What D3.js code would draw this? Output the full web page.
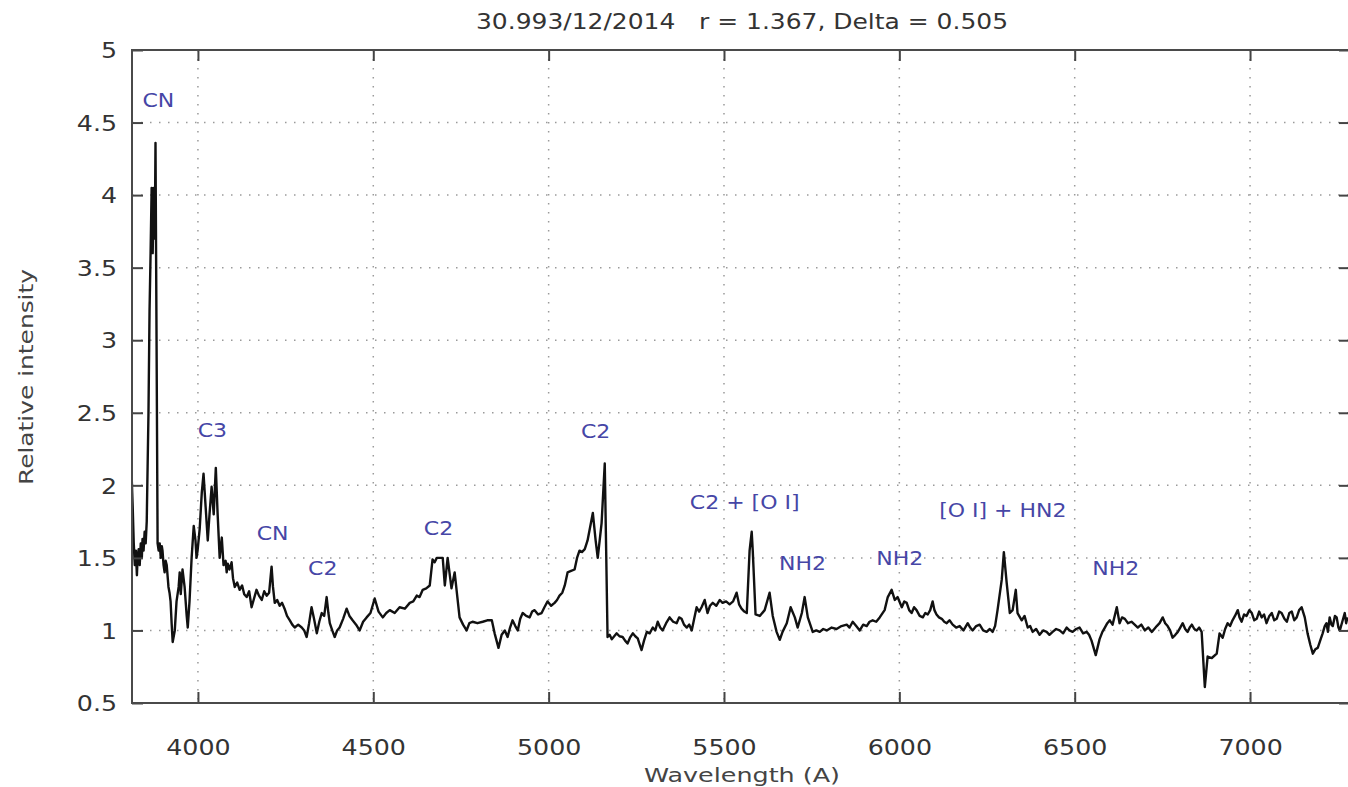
<!DOCTYPE html>
<html>
<head>
<meta charset="utf-8">
<script src="https://cdn.jsdelivr.net/npm/d3@7"></script>
<style>
  html, body { margin: 0; padding: 0; background: #fff; }
  svg { display: block; }
  text { font-family: "DejaVu Sans", Verdana, sans-serif; }
</style>
</head>
<body>
<svg id="chart" width="1348" height="787"></svg>
<script>
// ---------- data ----------
const titleText = "30.993/12/2014   r = 1.367, Delta = 0.505";
const xLabel = "Wavelength (A)";
const yLabel = "Relative intensity";
const xTicks = [4000, 4500, 5000, 5500, 6000, 6500, 7000];
const yTicks = [0.5, 1, 1.5, 2, 2.5, 3, 3.5, 4, 4.5, 5];

const wavelength = [
  // 3811 - 3880 : CN band
  3811,3814,3817,3820,3823,3826,3828,3831,3834,3837,3840,3842,3845,3848,3851,3854,
  3859,3862,3865,3868,3871,3874,3877,3879,3882,
  // 3885 - 4079 : C3
  3885,3888,3891,3894,3897,3899,3902,3905,3908,3911,3914,3916,3919,3922,3925,3928,
  3934,3939,3945,3948,3951,3956,3962,3968,3971,3976,3982,3988,3993,3996,3999,4005,
  4011,4016,4022,4028,4033,4039,4045,4051,4056,4062,4068,4073,
  // 4079 - 4681
  4079,4082,4085,4090,4096,4100,4105,4112,4119,4126,4132,4139,4146,4153,4160,4167,
  4174,4182,4189,4196,4203,4210,4214,4219,4226,4233,4240,4247,4254,4262,4269,4276,
  4286,4296,4303,4310,4317,4324,4331,4339,4346,4353,4360,4367,4372,4376,4383,4390,
  4397,4404,4414,4424,4432,4441,4451,4461,4471,4481,4492,4504,4515,4527,4537,4547,
  4561,4575,4590,4604,4614,4624,4632,4641,4651,4661,4669,4675,4681,
  // 4689 - 4746
  4689,4698,4704,4712,4723,4732,
  // 4746 - 5160
  4746,4756,4766,4774,4783,4797,4812,4825,4838,4846,4857,4866,4875,4883,4890,4897,
  4905,4912,4919,4926,4936,4946,4953,4960,4970,4980,4988,4997,5007,5017,5024,5031,
  5039,5046,5054,5064,5074,5081,5088,5095,5103,5111,5126,5134,5140,5151,5160,
  // 5168 - 5565
  5168,5174,5180,5187,5194,5202,5211,5218,5225,5232,5240,5247,5254,5260,5265,5272,
  5280,5288,5297,5304,5311,5318,5325,5335,5345,5355,5365,5372,5379,5386,5394,5401,
  5408,5415,5422,5429,5436,5445,5453,5460,5468,5478,5488,5496,5506,5516,5526,5536,
  5543,5550,5558,5565,
  // 5573 - 5739 : [O I] and NH2
  5573,5579,5582,5590,5602,5616,5630,5639,5650,5659,5667,5679,5690,5702,5710,5722,
  5730,5739,
  // 5753 - 6280
  5753,5763,5773,5783,5793,5807,5821,5835,5850,5858,5867,5877,5887,5897,5907,5915,
  5924,5934,5944,5958,5967,5978,5987,5995,6007,6014,6021,6028,6035,6042,6049,6058,
  6067,6074,6081,6088,6095,6100,6106,6113,6121,6128,6135,6143,6152,6162,6172,6183,
  6195,6202,6209,6219,6229,6239,6249,6258,6266,6273,6280,
  // 6292 - 6349 : [O I] 6300
  6292,6298,6306,6315,6323,6332,6337,
  // 6349 - 6871
  6349,6357,6366,6373,6380,6390,6400,6410,6420,6428,6437,6447,6457,6467,6477,6485,
  6494,6504,6514,6524,6534,6541,6548,6560,6571,6579,6586,6593,6600,6608,6614,6620,
  6628,6635,6643,6652,6662,6671,6680,6690,6700,6710,6720,6727,6734,6742,6751,6758,
  6765,6772,6779,6787,6794,6801,6808,6815,6822,6828,6834,6841,6848,6855,6862,
  // 6871 - 7278
  6871,6879,6891,6905,6913,6922,6929,6936,6943,6950,6957,6965,6970,6976,6983,6990,
  6998,7005,7012,7019,7026,7033,7040,7047,7055,7062,7069,7076,7083,7090,7098,7105,
  7112,7119,7126,7133,7140,7147,7156,7164,7172,7179,7186,7193,7200,7207,7213,7218,
  7222,7227,7232,7236,7242,7247,7252,7256,7263,7270,7274,7278
];
const intensity = [
  // 3811 - 3880
  2.06,1.85,1.60,1.45,1.55,1.38,1.50,1.56,1.45,1.60,1.50,1.63,1.55,1.68,1.60,1.75,
  2.50,3.20,3.60,4.05,3.60,4.05,3.70,4.36,3.00,
  // 3885 - 4079
  1.60,1.55,1.60,1.50,1.58,1.55,1.45,1.40,1.48,1.45,1.36,1.30,1.26,1.20,1.05,0.92,
  1.00,1.20,1.30,1.40,1.25,1.42,1.30,1.10,1.02,1.20,1.50,1.72,1.62,1.50,1.55,1.70,
  1.95,2.08,1.85,1.62,1.80,1.99,1.80,2.12,1.81,1.50,1.64,1.45,
  // 4079 - 4681
  1.48,1.40,1.46,1.42,1.47,1.36,1.30,1.33,1.28,1.31,1.25,1.23,1.27,1.16,1.22,1.28,
  1.24,1.21,1.27,1.24,1.26,1.44,1.30,1.19,1.21,1.17,1.19,1.15,1.10,1.07,1.04,1.02,
  1.04,1.02,1.00,0.955,1.05,1.16,1.08,0.98,1.06,1.12,1.10,1.23,1.12,1.05,1.00,0.955,
  1.00,1.02,1.08,1.15,1.10,1.07,1.04,1.00,1.06,1.09,1.12,1.22,1.13,1.09,1.12,1.14,
  1.12,1.16,1.15,1.19,1.20,1.24,1.23,1.28,1.29,1.31,1.49,1.47,1.50,
  // 4689 - 4746
  1.50,1.50,1.31,1.50,1.29,1.40,
  // 4746 - 5160
  1.09,1.04,1.00,1.05,1.06,1.05,1.06,1.07,1.07,0.98,0.88,0.97,1.00,0.955,1.02,1.07,
  1.03,1.00,1.08,1.12,1.10,1.09,1.13,1.14,1.11,1.12,1.16,1.20,1.17,1.19,1.21,1.24,
  1.26,1.31,1.40,1.41,1.42,1.50,1.55,1.54,1.56,1.62,1.81,1.62,1.50,1.74,2.15,
  // 5168 - 5565
  0.955,0.97,0.94,0.96,0.98,0.96,0.955,0.93,0.91,0.95,0.98,0.96,0.945,0.90,0.865,0.93,
  0.99,0.98,1.02,1.00,1.06,1.02,1.00,1.05,1.09,1.06,1.05,1.09,1.08,1.04,1.02,1.04,
  1.00,1.08,1.16,1.13,1.16,1.21,1.12,1.17,1.19,1.17,1.21,1.19,1.20,1.18,1.20,1.26,
  1.18,1.15,1.13,1.12,
  // 5573 - 5739
  1.55,1.68,1.55,1.11,1.10,1.14,1.26,1.10,0.99,0.935,0.99,1.05,1.16,1.09,1.02,1.12,
  1.23,1.09,
  // 5753 - 6280
  0.99,1.00,0.99,1.01,1.00,1.02,1.01,1.03,1.04,1.02,1.06,1.03,1.00,1.04,1.03,1.06,
  1.07,1.06,1.09,1.14,1.23,1.28,1.21,1.23,1.16,1.20,1.19,1.14,1.12,1.16,1.14,1.10,
  1.09,1.12,1.11,1.14,1.20,1.14,1.11,1.09,1.08,1.06,1.05,1.07,1.04,1.02,1.03,1.00,
  1.05,1.02,1.00,1.03,1.04,1.00,0.99,1.01,0.99,1.03,1.14,
  // 6292 - 6349
  1.35,1.54,1.33,1.12,1.14,1.28,1.12,
  // 6349 - 6871
  1.07,1.10,1.02,1.03,0.99,1.01,0.97,1.00,0.99,0.97,0.99,1.01,1.00,0.98,1.02,1.00,
  0.99,1.01,1.02,0.98,0.99,0.97,0.93,0.83,0.94,0.99,1.02,1.05,1.07,1.04,1.10,1.16,
  1.05,1.09,1.08,1.05,1.06,1.04,1.02,1.04,1.00,1.02,0.99,1.01,1.03,1.05,1.09,1.05,
  1.03,1.00,0.95,0.97,0.99,1.02,1.05,1.01,0.99,1.02,1.04,1.01,1.00,1.02,0.99,
  // 6871 - 7278
  0.61,0.82,0.81,0.84,0.98,0.95,1.01,1.05,1.03,1.07,1.10,1.14,1.09,1.06,1.11,1.10,
  1.14,1.12,1.07,1.08,1.13,1.09,1.11,1.05,1.10,1.12,1.07,1.08,1.13,1.12,1.08,1.06,
  1.12,1.13,1.07,1.09,1.14,1.16,1.09,0.98,0.90,0.84,0.87,0.88,0.93,0.98,1.03,1.05,
  0.99,1.09,1.04,1.03,1.10,1.09,1.02,1.00,1.06,1.12,1.05,1.09
];

const labelTexts = ["CN", "C3", "CN", "C2", "C2", "C2", "C2 + [O I]", "NH2", "NH2", "[O I] + HN2", "NH2"];
const labelWavelengths = [3887, 4041, 4213, 4356, 4686, 5134, 5559, 5724, 6001, 6295, 6617];
const labelIntensities = [4.66, 2.38, 1.67, 1.43, 1.706, 2.375, 1.885, 1.465, 1.50, 1.83, 1.43];

// ---------- layout ----------
const plot = { left: 132, right: 1350, top: 50, bottom: 703 };
const svg = d3.select("#chart");

const x = d3.scaleLinear()
  .domain([3812, 7285])
  .range([plot.left, plot.right]);
const y = d3.scaleLinear()
  .domain([0.5, 5])
  .range([plot.bottom, plot.top]);

const clipId = "plotclip";
svg.append("defs").append("clipPath").attr("id", clipId)
  .append("rect")
  .attr("x", plot.left).attr("y", plot.top)
  .attr("width", plot.right - plot.left).attr("height", plot.bottom - plot.top);

// grid
const grid = svg.append("g").attr("class", "grid");
grid.selectAll("line.vx")
  .data(xTicks).join("line")
  .attr("x1", d => x(d)).attr("x2", d => x(d))
  .attr("y1", plot.top).attr("y2", plot.bottom)
  .attr("stroke", "#9a9a9a").attr("stroke-width", 1.5)
  .attr("stroke-dasharray", "1.5,7.5");
grid.selectAll("line.hy")
  .data(yTicks.filter(d => d > 0.5 && d < 5)).join("line")
  .attr("x1", plot.left).attr("x2", plot.right)
  .attr("y1", d => y(d)).attr("y2", d => y(d))
  .attr("stroke", "#9a9a9a").attr("stroke-width", 1.5)
  .attr("stroke-dasharray", "1.5,7.5");

// spectrum
const pts = wavelength.map((w, i) => [w, intensity[i]]);
const line = d3.line().x(d => x(d[0])).y(d => y(d[1]));
svg.append("path")
  .datum(pts)
  .attr("clip-path", `url(#${clipId})`)
  .attr("d", line)
  .attr("fill", "none")
  .attr("stroke", "#111")
  .attr("stroke-width", 2.4)
  .attr("stroke-linejoin", "round");

// axes with inward ticks
const tickCol = "#444";
const tickLen = 11;
const xAxisB = svg.append("g")
  .attr("transform", `translate(0,${plot.bottom})`)
  .call(d3.axisBottom(x).tickValues(xTicks).tickSizeInner(-tickLen).tickSizeOuter(0).tickFormat(d3.format("d")));
const xAxisT = svg.append("g")
  .attr("transform", `translate(0,${plot.top})`)
  .call(d3.axisTop(x).tickValues(xTicks).tickSizeInner(-tickLen).tickSizeOuter(0).tickFormat(""));
const yAxisL = svg.append("g")
  .attr("transform", `translate(${plot.left},0)`)
  .call(d3.axisLeft(y).tickValues(yTicks).tickSizeInner(-tickLen).tickSizeOuter(0).tickFormat(d => d3.format("")(d)));
const yAxisR = svg.append("g")
  .attr("transform", `translate(${plot.right},0)`)
  .call(d3.axisRight(y).tickValues(yTicks).tickSizeInner(-tickLen).tickSizeOuter(0).tickFormat(""));

[xAxisB, xAxisT, yAxisL, yAxisR].forEach(g => {
  g.select(".domain").remove();
  g.selectAll(".tick line").attr("stroke", tickCol).attr("stroke-width", 2);
});

xAxisB.selectAll(".tick text")
  .attr("font-size", 22).attr("fill", "#333")
  .attr("dy", 0).attr("y", 0)
  .attr("transform", "translate(0,52) scale(1.15,1)");
yAxisL.selectAll(".tick text")
  .attr("font-size", 22).attr("fill", "#333")
  .attr("x", 0).attr("dy", "0.35em")
  .attr("transform", "translate(-15,0) scale(1.15,1)");

// frame
svg.append("rect")
  .attr("x", plot.left).attr("y", plot.top)
  .attr("width", plot.right - plot.left).attr("height", plot.bottom - plot.top)
  .attr("fill", "none").attr("stroke", "#4a4a4a").attr("stroke-width", 2);

// annotations
svg.append("g").selectAll("text")
  .data(labelTexts).join("text")
  .attr("transform", (d, i) => `translate(${x(labelWavelengths[i])},${y(labelIntensities[i])}) scale(1.1,1)`)
  .attr("text-anchor", "middle")
  .attr("dy", "0.36em")
  .attr("font-size", 20)
  .attr("fill", "#4646a6")
  .text(d => d);

// title and axis labels
svg.append("text")
  .attr("x", 742).attr("y", 29)
  .attr("text-anchor", "middle")
  .attr("xml:space", "preserve")
  .style("white-space", "pre")
  .attr("font-family", "'DejaVu Sans Condensed', 'DejaVu Sans', sans-serif")
  .attr("font-size", 21).attr("fill", "#333")
  .attr("textLength", 532).attr("lengthAdjust", "spacingAndGlyphs")
  .text(titleText);
svg.append("text")
  .attr("x", 742).attr("y", 782)
  .attr("text-anchor", "middle")
  .attr("font-size", 20).attr("fill", "#444")
  .attr("textLength", 196).attr("lengthAdjust", "spacingAndGlyphs")
  .text(xLabel);
svg.append("text")
  .attr("transform", "translate(33,377) rotate(-90)")
  .attr("text-anchor", "middle")
  .attr("font-size", 20).attr("fill", "#444")
  .attr("textLength", 216).attr("lengthAdjust", "spacingAndGlyphs")
  .text(yLabel);
</script>
</body>
</html>
